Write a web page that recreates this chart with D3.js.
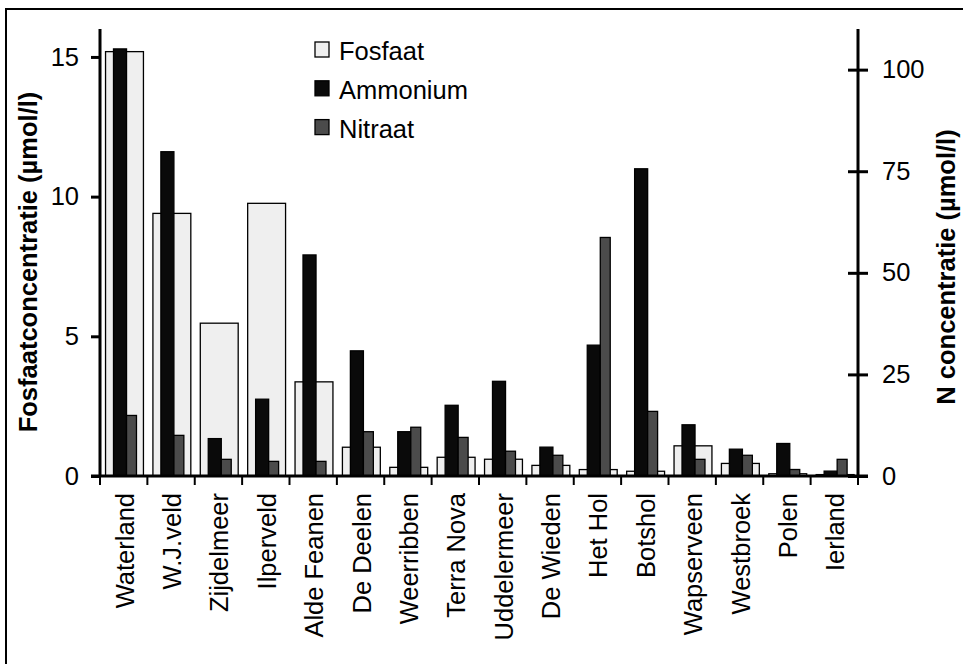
<!DOCTYPE html>
<html><head><meta charset="utf-8">
<script src="https://cdn.jsdelivr.net/npm/d3@7"></script>
<style>
html,body{margin:0;padding:0;background:#fff;}
svg{display:block;font-family:"Liberation Sans",Arial,sans-serif;}
</style></head>
<body><svg id="c" width="963" height="664"></svg>
<script>
const categories = ["Waterland","W.J.veld","Zijdelmeer","Ilperveld","Alde Feanen","De Deelen","Weerribben","Terra Nova","Uddelermeer","De Wieden","Het Hol","Botshol","Wapserveen","Westbroek","Polen","Ierland"];
const fosfaat   = [15.19, 9.40, 5.47, 9.76, 3.37, 1.03, 0.31, 0.67, 0.60, 0.38, 0.23, 0.17, 1.08, 0.45, 0.08, 0.05];
const ammonium  = [105.1, 79.8, 9.2, 18.9, 54.4, 30.8, 10.9, 17.4, 23.3, 7.1, 32.2, 75.6, 12.6, 6.6, 8.0, 1.2];
const nitraat   = [14.9, 10.0, 4.1, 3.6, 3.6, 10.9, 12.0, 9.5, 6.1, 5.1, 58.7, 15.9, 4.1, 5.1, 1.6, 4.1];
const leftTicks = [0, 5, 10, 15];
const rightTicks = [0, 25, 50, 75, 100];
const seriesNames = ["Fosfaat", "Ammonium", "Nitraat"];
const seriesColors = ["#efefef", "#0a0a0a", "#4b4b4b"];

const svg = d3.select("#c");
const FONT = 25.5;
const x0 = 100, x1 = 858, yTop = 29, yBot = 476;

// outer frame
svg.append("rect").attr("x", 6).attr("y", 9).attr("width", 980).attr("height", 700)
  .attr("fill", "none").attr("stroke", "#000").attr("stroke-width", 2);

const x = d3.scaleBand().domain(categories).range([x0, x1]).padding(0);
const yL = d3.scaleLinear().domain([0, 16]).range([yBot, yTop]);
const yR = d3.scaleLinear().domain([0, 110]).range([yBot, yTop]);
const bw = x.bandwidth();

// Fosfaat (primary axis, wide bars)
svg.append("g").selectAll("rect").data(categories).join("rect")
  .attr("x", d => x(d) + bw * 0.117)
  .attr("width", bw * 0.8)
  .attr("y", (d, i) => yL(fosfaat[i]))
  .attr("height", (d, i) => yBot - yL(fosfaat[i]))
  .attr("fill", seriesColors[0]).attr("stroke", "#000").attr("stroke-width", 1.3);

// Ammonium (secondary)
svg.append("g").selectAll("rect").data(categories).join("rect")
  .attr("x", d => x(d) + bw * 0.285)
  .attr("width", bw * 0.275)
  .attr("y", (d, i) => yR(ammonium[i]))
  .attr("height", (d, i) => yBot - yR(ammonium[i]))
  .attr("fill", seriesColors[1]).attr("stroke", "#000").attr("stroke-width", 1.3);

// Nitraat (secondary)
svg.append("g").selectAll("rect").data(categories).join("rect")
  .attr("x", d => x(d) + bw * 0.56)
  .attr("width", bw * 0.21)
  .attr("y", (d, i) => yR(nitraat[i]))
  .attr("height", (d, i) => yBot - yR(nitraat[i]))
  .attr("fill", seriesColors[2]).attr("stroke", "#000").attr("stroke-width", 1.3);

// Left axis
const gL = svg.append("g").attr("transform", `translate(${x0},0)`)
  .call(d3.axisLeft(yL).tickValues(leftTicks).tickSize(9).tickPadding(12).tickSizeOuter(0));
gL.select(".domain").attr("stroke-width", 3).attr("d", `M0,${yTop}V${yBot}`);
gL.selectAll(".tick line").attr("stroke-width", 3);
gL.selectAll("text").attr("font-size", FONT).attr("font-family", "Liberation Sans, Arial, sans-serif").attr("fill", "#000");

// Right axis (cross ticks)
const gR = svg.append("g").attr("transform", `translate(${x1},0)`)
  .call(d3.axisRight(yR).tickValues(rightTicks).tickSize(10).tickPadding(14).tickSizeOuter(0));
gR.select(".domain").attr("stroke-width", 3).attr("d", `M0,${yTop}V${yBot}`);
gR.selectAll(".tick line").attr("stroke-width", 3).attr("x1", -10).attr("x2", 10);
gR.selectAll("text").attr("font-size", FONT).attr("font-family", "Liberation Sans, Arial, sans-serif").attr("fill", "#000");

// X axis
svg.append("line").attr("x1", x0 - 9).attr("x2", x1 + 10).attr("y1", yBot).attr("y2", yBot)
  .attr("stroke", "#000").attr("stroke-width", 3);
const boundaries = categories.map(c => x(c)).concat([x1]);
svg.append("g").selectAll("line").data(boundaries).join("line")
  .attr("x1", d => d).attr("x2", d => d).attr("y1", yBot).attr("y2", yBot + 9)
  .attr("stroke", "#000").attr("stroke-width", 2);

svg.append("g").selectAll("text").data(categories).join("text")
  .attr("transform", d => `translate(${x(d) + bw / 2 + 10},493) rotate(-90)`)
  .attr("text-anchor", "end")
  .attr("font-size", FONT)
  .text(d => d);

// Axis titles
svg.append("text").attr("transform", "translate(37,262) rotate(-90)")
  .attr("text-anchor", "middle").attr("font-weight", "bold").attr("font-size", 25.5)
  .text("Fosfaatconcentratie (µmol/l)");
svg.append("text").attr("transform", "translate(955,267) rotate(-90)")
  .attr("text-anchor", "middle").attr("font-weight", "bold").attr("font-size", 25.5)
  .text("N concentratie (µmol/l)");

// Legend
const lg = svg.append("g");
seriesNames.forEach((n, i) => {
  const by = 60 + i * 38.8;
  lg.append("rect").attr("x", 315).attr("y", by - 18).attr("width", 14).attr("height", 15)
    .attr("fill", seriesColors[i]).attr("stroke", "#000").attr("stroke-width", 1.3);
  lg.append("text").attr("x", 339).attr("y", by).attr("font-size", FONT).text(n);
});
</script></body></html>
